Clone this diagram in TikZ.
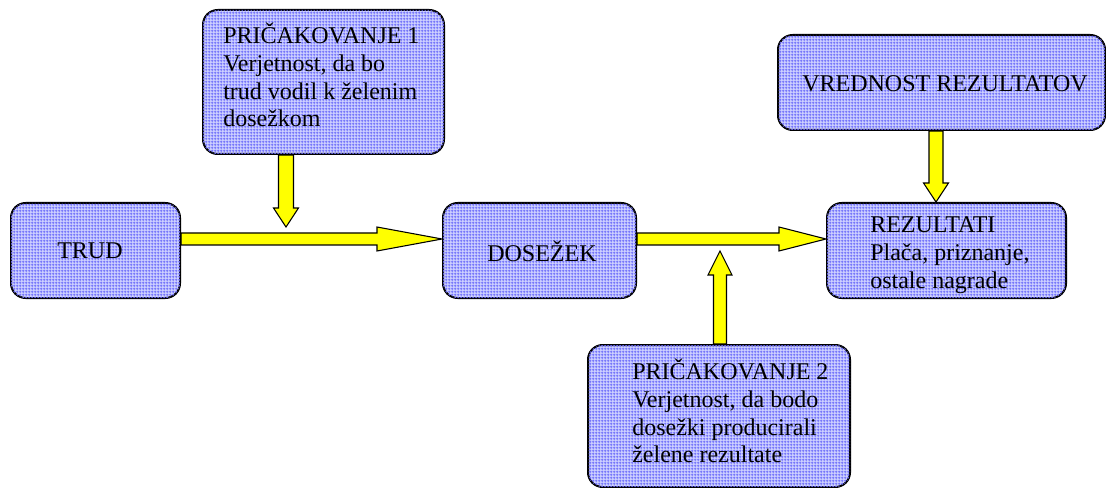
\documentclass[tikz,border=0pt]{standalone}
\usepackage{fontspec}
\setmainfont{Liberation Serif}
\usetikzlibrary{calc,backgrounds,patterns.meta}
\definecolor{boxbase}{RGB}{205,208,255}
\definecolor{gridblue}{RGB}{110,110,250}
\definecolor{arrowyellow}{RGB}{255,255,0}
\tikzdeclarepattern{
  name=bluegrid,
  type=uncolored,
  bounding box={(0pt,0pt) and (2pt,2pt)},
  tile size={(2pt,2pt)},
  code={\pgfsetlinewidth{0.55pt}
        \pgfpathmoveto{\pgfqpoint{0pt}{1pt}}\pgfpathlineto{\pgfqpoint{2pt}{1pt}}
        \pgfpathmoveto{\pgfqpoint{1pt}{0pt}}\pgfpathlineto{\pgfqpoint{1pt}{2pt}}
        \pgfusepath{stroke}}
}
\tikzset{
  box/.style={draw=black, line width=1.5pt, fill=boxbase, rounded corners=11pt, inner sep=0pt,
    postaction={pattern=bluegrid, pattern color=gridblue}},
  txt/.style={anchor=west, inner sep=0pt, align=left, font=\fontsize{18}{20.8}\selectfont},
  barrow/.style={draw=black, line width=0.8pt, fill=arrowyellow, line join=miter}
}
% horizontal block arrow: tail, tip, shaft half width, head half width, head length
\newcommand\hblock[5]{\draw[barrow] ($(#1)+(0,-#3)$) -- ($(#2)+(-#5,-#3)$) -- ($(#2)+(-#5,-#4)$) -- (#2) -- ($(#2)+(-#5,#4)$) -- ($(#2)+(-#5,#3)$) -- ($(#1)+(0,#3)$) -- cycle;}
% vertical block arrow: tail, tip, shaft half, head half, head length, sign (1 = down, -1 = up)
\newcommand\vblock[6]{\draw[barrow] ($(#1)+(-#3,0)$) -- ($(#2)+(-#3,{-#6*#5})$) -- ($(#2)+(-#4,{-#6*#5})$) -- (#2) -- ($(#2)+(#4,{-#6*#5})$) -- ($(#2)+(#3,{-#6*#5})$) -- ($(#1)+(#3,0)$) -- cycle;}
\begin{document}
\begin{tikzpicture}[x=0.75pt, y=-0.75pt]
\useasboundingbox (0,0) rectangle (1106,488);
% boxes
\node[box, minimum width=180.75pt, minimum height=108pt] (p1) at (323.5,82) {};
\node[box, minimum width=126.75pt, minimum height=71.25pt] (trud) at (95.5,250.5) {};
\node[box, minimum width=144.75pt, minimum height=71.25pt] (dos) at (539.5,250.5) {};
\node[box, minimum width=179.25pt, minimum height=71.25pt] (rez) at (946.5,250.5) {};
\node[box, minimum width=245.25pt, minimum height=71.25pt] (vred) at (941.5,82.5) {};
\node[box, minimum width=196.5pt, minimum height=106.5pt] (p2) at (719,416) {};
% texts
\node[txt] (p1t) at (223,75) {PRIČAKOVANJE 1\\Verjetnost, da bo\\trud vodil k želenim\\dosežkom};
\node[txt] (trudt) at (57,251) {TRUD};
\node[txt] (dost) at (487,251) {DOSEŽEK};
\node[txt] (vredt) at (802,84) {VREDNOST REZULTATOV};
\node[txt] (rezt) at (870,255) {REZULTATI\\Plača, priznanje,\\ostale nagrade};
\node[txt] (p2t) at (632,411) {PRIČAKOVANJE 2\\Verjetnost, da bodo\\dosežki producirali\\želene rezultate};
% reference coordinates
\coordinate (ya) at (0,239);
\coordinate (xa) at (286,0);
\coordinate (xb) at (720,0);
\coordinate (xc) at (936,0);
\coordinate (tipa) at (286,227);
\coordinate (tipb) at (720,251);
\begin{scope}[on background layer]
\hblock{trud.east |- ya}{dos.west |- ya}{6}{12}{65}
\hblock{dos.east |- ya}{rez.west |- ya}{6}{12}{47}
\vblock{p1.south -| xa}{tipa}{7.5}{12.5}{19}{1}
\vblock{p2.north -| xb}{tipb}{6.5}{12}{24}{-1}
\vblock{vred.south -| xc}{rez.north -| xc}{7}{12.5}{19}{1}
\end{scope}
\end{tikzpicture}
\end{document}
